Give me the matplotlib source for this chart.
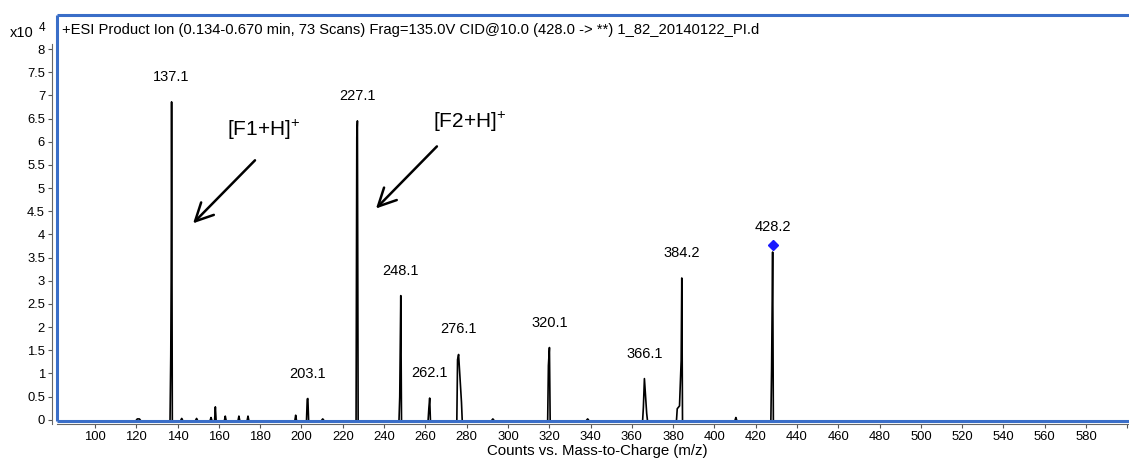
import numpy as np
import matplotlib.pyplot as plt
from matplotlib.lines import Line2D

plt.rcParams['font.family'] = ['Liberation Sans', 'DejaVu Sans']
plt.rcParams['mathtext.fontset'] = 'custom'
plt.rcParams['mathtext.rm'] = 'Liberation Sans'
plt.rcParams['mathtext.default'] = 'regular'

# profile points (m/z, counts x10^4)
peak_mz = [120.5, 121.5, 136.7, 136.9, 137.1, 142.0, 149.2, 156.2, 158.3, 163.1,
           169.7, 174.1, 197.2, 202.8, 203.1, 210.3, 226.8, 227.1, 247.6, 248.1,
           261.7, 262.1, 275.6, 276.1, 277.5, 292.7, 319.6, 320.1, 338.6, 365.6,
           366.1, 367.2, 382.0, 383.1, 383.9, 384.2, 410.4, 427.7, 428.2]
peak_int = [0.02, 0.02, 1.40, 3.00, 6.86, 0.03, 0.03, 0.05, 0.28, 0.08,
            0.08, 0.08, 0.10, 0.45, 0.46, 0.02, 6.10, 6.45, 0.50, 2.68,
            0.25, 0.47, 1.30, 1.41, 0.38, 0.02, 1.17, 1.56, 0.02, 0.27,
            0.89, 0.14, 0.24, 0.30, 1.28, 3.06, 0.05, 1.10, 3.62]

# labelled peaks
label_mz = [137.1, 203.1, 227.1, 248.1, 262.1, 276.1, 320.1, 366.1, 384.2, 428.2]
label_int = [6.86, 0.46, 6.45, 2.68, 0.47, 1.41, 1.56, 0.89, 3.06, 3.62]

precursor_mz = 428.2
precursor_int = 3.78

# fragment annotations: text, text position, arrow tail, arrow tip
frag_text = ['[F1+H]$^{+}$', '[F2+H]$^{+}$']
frag_xy = [(181.5, 6.25), (281.5, 6.42)]
arrow_tail = [(177.5, 5.6), (265.6, 5.9)]
arrow_tip = [(147.5, 4.24), (236.1, 4.56)]

xticks = list(range(100, 601, 20))
yticks = [0, 0.5, 1, 1.5, 2, 2.5, 3, 3.5, 4, 4.5, 5, 5.5, 6, 6.5, 7, 7.5, 8]

W, H = 1129, 459
fig = plt.figure(figsize=(W / 100, H / 100), dpi=100)
ax = fig.add_axes([57 / W, (H - 421) / H, 1 - 57 / W, (421 - 15) / H])

# group points into peaks and draw each as a narrow profile
hw = 0.35
groups = []
for m, h in zip(peak_mz, peak_int):
    if groups and m - groups[-1][-1][0] < 1.5:
        groups[-1].append((m, h))
    else:
        groups.append([(m, h)])
for g in groups:
    xs = [g[0][0] - hw] + [p[0] for p in g] + [g[-1][0] + hw]
    ys = [0] + [p[1] for p in g] + [0]
    ax.plot(xs, ys, color='black', lw=1.2)

for m, h in zip(label_mz, label_int):
    ax.annotate(f'{m:.1f}', (m, h), xytext=(0, 18), textcoords='offset points',
                ha='center', va='center', fontsize=10.5)

ax.plot([precursor_mz], [precursor_int], marker='D', color='#1a1aff',
        markersize=5.5, linestyle='none')

for t, xy, a, b in zip(frag_text, frag_xy, arrow_tail, arrow_tip):
    ax.text(xy[0], xy[1], t, ha='center', va='center', fontsize=15)
    ax.annotate('', xy=b, xytext=a,
                arrowprops=dict(arrowstyle='->', lw=1.8, color='black',
                                mutation_scale=32, shrinkA=0, shrinkB=0))

ax.set_xlim(81.6, 600.8)
ax.set_ylim(-0.025, 8.735)
ax.set_xticks(xticks)
ax.set_xticklabels([str(v) if v < 600 else '' for v in xticks])
ax.set_yticks(yticks)
ax.set_yticklabels([f'{v:g}' for v in yticks])
ax.tick_params(axis='both', labelsize=9.4, length=3, width=0.8,
               colors='#555555', labelcolor='black', pad=2)

for s in ['top', 'right']:
    ax.spines[s].set_visible(False)
ax.spines['left'].set_position(('outward', 3.6))
ax.spines['left'].set_bounds(-0.1, 8.1)
ax.spines['bottom'].set_position(('outward', 2.2))
for s in ['left', 'bottom']:
    ax.spines[s].set_color('#666666')
    ax.spines[s].set_linewidth(0.8)

# blue frame (left, top, bottom)
blue = '#3a6ec8'
for xs, ys in [([0, 0], [0, 1]), ([0, 1], [1, 1]), ([0, 1], [0, 0])]:
    ax.add_line(Line2D(xs, ys, transform=ax.transAxes, color=blue, lw=2.2,
                       clip_on=False, zorder=5, solid_capstyle='butt'))

fig.text(62 / W, 1 - 30 / H,
         '+ESI Product Ion (0.134-0.670 min, 73 Scans) Frag=135.0V CID@10.0 (428.0 -> **) 1_82_20140122_PI.d',
         fontsize=10.6, va='center', ha='left')
fig.text(10 / W, 1 - 33 / H, 'x10', fontsize=10.5, va='center', ha='left')
fig.text(39 / W, 1 - 28 / H, '4', fontsize=8.5, va='center', ha='left')
fig.text(597 / W, 1 - 451 / H, 'Counts vs. Mass-to-Charge (m/z)',
         fontsize=10.8, va='center', ha='center')

fig.savefig('out.png', dpi=100)
